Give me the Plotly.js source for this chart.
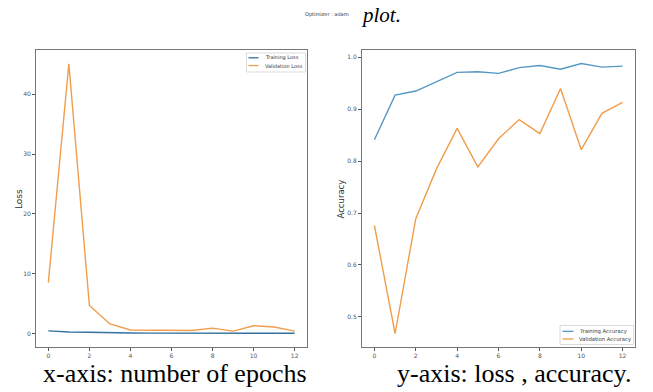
<!DOCTYPE html>
<html>
<head>
<meta charset="utf-8">
<script src="https://cdn.plot.ly/plotly-3.0.1.min.js"></script>
<style>html,body{margin:0;padding:0;background:#fff;}#chart{width:653px;height:392px;}</style>
</head>
<body>
<div id="chart"></div>
<script>
const epochs = [0,1,2,3,4,5,6,7,8,9,10,11,12];
const trainingLoss = [0.45,0.25,0.22,0.12,0.08,0.07,0.07,0.06,0.05,0.06,0.04,0.05,0.05];
const validationLoss = [8.5,45.1,4.7,1.6,0.6,0.6,0.6,0.5,0.9,0.4,1.3,1.1,0.4];
const trainingAcc = [0.841,0.927,0.935,0.953,0.971,0.972,0.969,0.980,0.984,0.977,0.988,0.981,0.983];
const validationAcc = [0.676,0.468,0.689,0.785,0.863,0.789,0.843,0.880,0.853,0.940,0.822,0.892,0.913];
const xTicks = [0,2,4,6,8,10,12];
const lossTicks = [0,10,20,30,40];
const accTicks = [0.5,0.6,0.7,0.8,0.9,1.0];
const accTickText = ['0.5','0.6','0.7','0.8','0.9','1.0'];
const lossNames = ['Training Loss','Validation Loss'];
const accNames = ['Training Accuracy','Validation Accuracy'];

const W = 653, H = 392;
const px = v => v / W;
const py = v => 1 - v / H;

const blue = '#33729f';
const blueLight = '#5598c4';
const orange = '#f09d4c';
const tickFont = {family:'DejaVu Sans', size:6, color:'#555'};

const traces = [
  {x:epochs, y:trainingLoss, mode:'lines', name:lossNames[0], line:{color:blue,width:1.4}, xaxis:'x', yaxis:'y'},
  {x:epochs, y:validationLoss, mode:'lines', name:lossNames[1], line:{color:orange,width:1.4}, xaxis:'x', yaxis:'y'},
  {x:epochs, y:trainingAcc, mode:'lines', name:accNames[0], line:{color:blueLight,width:1.4}, xaxis:'x2', yaxis:'y2'},
  {x:epochs, y:validationAcc, mode:'lines', name:accNames[1], line:{color:orange,width:1.4}, xaxis:'x2', yaxis:'y2'}
];

function xax(domain, anchor){
  return {domain:domain, anchor:anchor, range:[-0.6,12.6], tickvals:xTicks, ticks:'outside', ticklen:3, tickcolor:'#555',
    tickfont:tickFont, showgrid:false, zeroline:false, showline:true, mirror:true, linecolor:'#777', linewidth:1};
}
function yax(domain, anchor, range, vals, text){
  const a = {domain:domain, anchor:anchor, range:range, tickvals:vals, ticks:'outside', ticklen:3, tickcolor:'#555',
    tickfont:tickFont, showgrid:false, zeroline:false, showline:true, mirror:true, linecolor:'#777', linewidth:1};
  if (text) a.ticktext = text;
  return a;
}

// hand-built compact legends (boxes, sample lines, labels)
const shapes = [
  {type:'rect', xref:'paper', yref:'paper', x0:px(246.5), x1:px(305.5), y0:py(53), y1:py(72), line:{color:'#d0d0d0',width:0.8}, fillcolor:'#fff', layer:'above'},
  {type:'line', xref:'paper', yref:'paper', x0:px(248.5), x1:px(258.5), y0:py(57.8), y1:py(57.8), line:{color:blue,width:1.3}, layer:'above'},
  {type:'line', xref:'paper', yref:'paper', x0:px(248.5), x1:px(258.5), y0:py(65.6), y1:py(65.6), line:{color:orange,width:1.3}, layer:'above'},
  {type:'rect', xref:'paper', yref:'paper', x0:px(560), x1:px(633.5), y0:py(325.5), y1:py(344.5), line:{color:'#d0d0d0',width:0.8}, fillcolor:'#fff', layer:'above'},
  {type:'line', xref:'paper', yref:'paper', x0:px(562.5), x1:px(573.5), y0:py(331.3), y1:py(331.3), line:{color:blueLight,width:1.3}, layer:'above'},
  {type:'line', xref:'paper', yref:'paper', x0:px(562.5), x1:px(573.5), y0:py(339), y1:py(339), line:{color:orange,width:1.3}, layer:'above'}
];

const legFont = {family:'DejaVu Sans', size:5, color:'#333'};
const annotations = [
  {text:lossNames[0], xref:'paper', yref:'paper', x:px(262.5), y:py(57.8), xanchor:'left', yanchor:'middle', showarrow:false, font:legFont},
  {text:lossNames[1], xref:'paper', yref:'paper', x:px(262.5), y:py(65.6), xanchor:'left', yanchor:'middle', showarrow:false, font:legFont},
  {text:accNames[0], xref:'paper', yref:'paper', x:px(576.5), y:py(331.3), xanchor:'left', yanchor:'middle', showarrow:false, font:{family:'DejaVu Sans', size:5.3, color:'#333'}},
  {text:accNames[1], xref:'paper', yref:'paper', x:px(576.5), y:py(339), xanchor:'left', yanchor:'middle', showarrow:false, font:{family:'DejaVu Sans', size:5.3, color:'#333'}},
  {text:'Loss', xref:'paper', yref:'paper', x:px(19), y:py(199), xanchor:'center', yanchor:'middle', textangle:-90, showarrow:false,
    font:{family:'DejaVu Sans', size:9, color:'#333'}},
  {text:'Accuracy', xref:'paper', yref:'paper', x:px(340.5), y:py(199), xanchor:'center', yanchor:'middle', textangle:-90, showarrow:false,
    font:{family:'DejaVu Sans', size:8.5, color:'#333'}},
  {text:'Optimizer : adam', xref:'paper', yref:'paper', x:0.5, y:py(15), xanchor:'center', yanchor:'middle', showarrow:false,
    font:{family:'DejaVu Sans', size:5, color:'#333'}},
  {text:'<i>plot.</i>', xref:'paper', yref:'paper', x:px(381), y:py(0.5), xanchor:'center', yanchor:'top', showarrow:false,
    font:{family:'Liberation Serif', size:21, color:'#000'}},
  {text:'x-axis: number of epochs', xref:'paper', yref:'paper', x:px(175), y:py(373), xanchor:'center', yanchor:'middle', showarrow:false,
    font:{family:'Liberation Serif', size:26, color:'#000'}},
  {text:'y-axis: loss , accuracy.', xref:'paper', yref:'paper', x:px(514), y:py(373), xanchor:'center', yanchor:'middle', showarrow:false,
    font:{family:'Liberation Serif', size:26, color:'#000'}}
];

const layout = {
  width:W, height:H, margin:{l:0,r:0,t:0,b:0}, paper_bgcolor:'#fff', plot_bgcolor:'#fff',
  xaxis: xax([px(36),px(307)],'y'),
  yaxis: yax([1-347/H,1-50/H],'x',[-2.25,47.4],lossTicks,null),
  xaxis2: xax([px(362),px(635)],'y2'),
  yaxis2: yax([1-347/H,1-50/H],'x2',[0.442,1.014],accTicks,accTickText),
  showlegend:false,
  shapes:shapes,
  annotations:annotations
};

Plotly.newPlot('chart', traces, layout, {staticPlot:true, displayModeBar:false});
</script>
</body>
</html>
